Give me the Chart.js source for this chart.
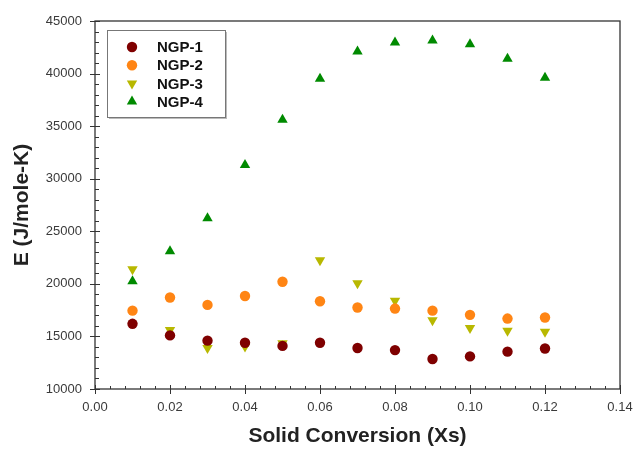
<!DOCTYPE html>
<html>
<head>
<meta charset="utf-8">
<script src="https://cdn.jsdelivr.net/npm/chart.js@4"></script>
<style>
  body { margin: 0; background: #fff; }
  #wrap { width: 635px; height: 449px; }
</style>
</head>
<body>
<div id="wrap"><canvas id="chart"></canvas></div>
<script>
const xs = [0.01, 0.02, 0.03, 0.04, 0.05, 0.06, 0.07, 0.08, 0.09, 0.10, 0.11, 0.12];
const ngp1 = [16200, 15100, 14600, 14400, 14100, 14400, 13900, 13700, 12850, 13100, 13550, 13850];
const ngp2 = [17450, 18700, 18000, 18850, 20200, 18350, 17750, 17650, 17450, 17050, 16700, 16800];
const ngp3 = [21400, 15600, 13900, 14050, 14350, 22250, 20050, 18400, 16550, 15800, 15550, 15450];
const ngp4 = [20250, 23100, 26250, 31300, 35600, 39500, 42100, 42950, 43150, 42800, 41400, 39600];
const seriesNames = ['NGP-1', 'NGP-2', 'NGP-3', 'NGP-4'];
const xTicks = [0, 0.02, 0.04, 0.06, 0.08, 0.10, 0.12, 0.14];
const yTicks = [10000, 15000, 20000, 25000, 30000, 35000, 40000, 45000];

const FONT = '"Liberation Sans", Arial, sans-serif';
const pts = arr => arr.map((y, i) => ({ x: xs[i], y }));

function ds(label, data, color, style, rot, r) {
  return {
    label, data: pts(data),
    pointStyle: style, rotation: rot,
    pointRadius: r, pointHoverRadius: r,
    backgroundColor: color, borderColor: color, borderWidth: 0,
    showLine: false,
  };
}

// frame, tick marks (major crossing, minor inside) and the boxed legend
const decor = {
  id: 'decor',
  afterDraw(chart) {
    const { ctx, chartArea: a, scales: { x, y } } = chart;
    ctx.save();
    ctx.strokeStyle = '#333';
    ctx.lineWidth = 1.3;
    ctx.strokeRect(a.left, a.top, a.right - a.left, a.bottom - a.top);
    ctx.lineWidth = 1;
    ctx.beginPath();
    for (let i = 0; i <= 35; i++) {
      const px = Math.round(x.getPixelForValue(i * 0.004)) + 0.5;
      if (i % 5 === 0) { ctx.moveTo(px, a.bottom - 4); ctx.lineTo(px, a.bottom + 5); }
      else { ctx.moveTo(px, a.bottom - 3); ctx.lineTo(px, a.bottom); }
      const py = Math.round(y.getPixelForValue(10000 + i * 1000)) + 0.5;
      if (i % 5 === 0) { ctx.moveTo(a.left - 5, py); ctx.lineTo(a.left + 5, py); }
      else { ctx.moveTo(a.left, py); ctx.lineTo(a.left + 4, py); }
    }
    ctx.stroke();

    // legend box
    const bx = 107, by = 30, bw = 118, bh = 87;
    ctx.fillStyle = '#bbb';
    ctx.fillRect(bx + 2, by + 2, bw, bh);
    ctx.fillStyle = '#fff';
    ctx.fillRect(bx, by, bw, bh);
    ctx.strokeStyle = '#777';
    ctx.strokeRect(bx + 0.5, by + 0.5, bw, bh);
    chart.data.datasets.forEach((d, i) => {
      const cy = 47 + i * 18.2;
      ctx.fillStyle = d.backgroundColor;
      ctx.strokeStyle = d.borderColor;
      Chart.helpers.drawPoint(ctx, {
        pointStyle: d.pointStyle, rotation: d.rotation,
        radius: d.pointRadius, borderWidth: 0,
      }, 132, cy);
      ctx.fillStyle = '#111';
      ctx.font = 'bold 15px ' + FONT;
      ctx.textBaseline = 'middle';
      ctx.fillText(seriesNames[i], 157, cy + 1);
    });
    ctx.restore();
  }
};

new Chart(document.getElementById('chart'), {
  type: 'scatter',
  data: {
    datasets: [
      ds(seriesNames[0], ngp1, '#7f0000', 'circle', 0, 5.2),
      ds(seriesNames[1], ngp2, '#ff8514', 'circle', 0, 5.2),
      ds(seriesNames[2], ngp3, '#b8b800', 'triangle', 180, 6),
      ds(seriesNames[3], ngp4, '#008a00', 'triangle', 0, 6),
    ],
  },
  options: {
    responsive: true,
    maintainAspectRatio: false,
    animation: false,
    layout: { padding: { top: 21, right: 15, bottom: 0, left: 0 } },
    plugins: { legend: { display: false }, tooltip: { enabled: false } },
    scales: {
      x: {
        type: 'linear', min: 0, max: 0.14,
        afterBuildTicks: s => { s.ticks = xTicks.map(v => ({ value: v })); },
        afterFit: s => { s.height = 60; s.paddingLeft = 0; s.paddingRight = 0; },
        grid: { display: false, drawTicks: false },
        border: { display: false },
        ticks: {
          color: '#3a3a3a', padding: 11, maxRotation: 0,
          font: { family: FONT, size: 13 },
          callback: v => v.toFixed(2),
        },
        title: {
          display: true, text: 'Solid Conversion (Xs)', color: '#222',
          font: { family: FONT, size: 21, weight: 'bold' },
          padding: { top: 0, bottom: 0 },
        },
      },
      y: {
        type: 'linear', min: 10000, max: 45000,
        afterBuildTicks: s => { s.ticks = yTicks.map(v => ({ value: v })); },
        afterFit: s => { s.width = 95; s.paddingTop = 0; s.paddingBottom = 0; },
        grid: { display: false, drawTicks: false },
        border: { display: false },
        ticks: {
          color: '#3a3a3a', padding: 13,
          font: { family: FONT, size: 13 },
          callback: v => String(v),
        },
        title: {
          display: true, text: 'E (J/mole-K)', color: '#222',
          font: { family: FONT, size: 21, weight: 'bold' },
          padding: { top: 10, bottom: 0 },
        },
      },
    },
  },
  plugins: [decor],
});
</script>
</body>
</html>
